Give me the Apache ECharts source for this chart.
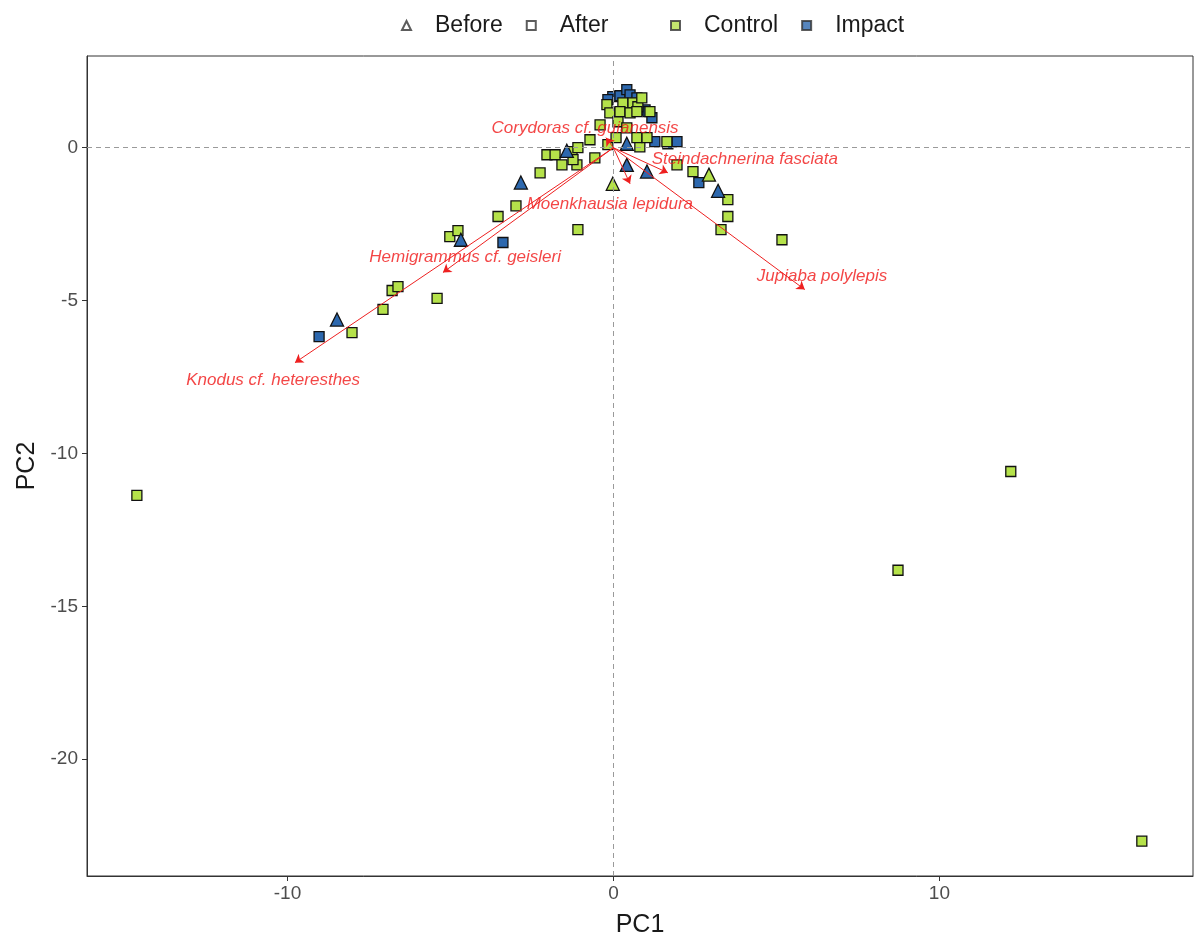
<!DOCTYPE html>
<html>
<head>
<meta charset="utf-8">
<script src="https://cdn.jsdelivr.net/npm/echarts@6/dist/echarts.min.js"></script>
<style>html,body{margin:0;padding:0;background:#fff}#c{width:1198px;height:943px}</style>
</head>
<body>
<div id="c"></div>
<script>
// ---- data (PC1, PC2) ----
const controlBefore = [[-0.02,-1.18],[2.93,-0.88]];
const impactBefore = [[-8.48,-5.62],[-4.68,-3.01],[-2.84,-1.14],[-1.43,-0.10],[0.41,0.13],[0.41,-0.56],[1.03,-0.78],[3.21,-1.41]];
const impactAfter = [[-9.03,-6.18],[-3.39,-3.10],[2.62,-1.14],[1.27,0.20],[1.67,0.13],[1.95,0.20],
  [-0.02,1.67],[0.20,1.70],[0.41,1.90],[0.51,1.73],[0.72,1.63],[-0.17,1.57],[0.97,1.24],[1.06,1.18],[1.18,0.98]];
const controlAfter = [
  [-14.62,-11.37],[12.19,-10.59],[8.73,-13.82],[16.21,-22.68],
  [-8.02,-6.05],[-7.07,-5.29],[-6.79,-4.67],[-6.61,-4.54],[-5.41,-4.93],[-5.02,-2.91],[-4.77,-2.71],
  [-3.54,-2.25],[-2.99,-1.90],[-1.09,-2.68],
  [2.44,-0.78],[3.51,-1.70],[3.51,-2.25],[3.30,-2.68],[5.17,-3.01],[1.95,-0.56],
  [-2.25,-0.82],[-2.04,-0.23],[-1.79,-0.23],[-1.27,-0.13],[-1.09,0.00],[-1.58,-0.56],[-1.12,-0.56],
  [-1.24,-0.39],[-0.57,-0.33],[-0.17,0.10],[0.81,0.03],[-0.72,0.26],[0.08,0.33],[0.72,0.33],[1.03,0.33],[1.64,0.20],
  [-0.20,1.41],[0.29,1.47],[0.60,1.47],[0.75,1.34],[-0.11,1.14],[0.20,1.18],[0.51,1.14],[0.72,1.18],
  [0.87,1.63],[1.12,1.18],[0.14,0.85],[0.41,0.65],[-0.41,0.75]
];
// species loadings (arrow tips) and label anchors
const species = ['Knodus cf. heteresthes','Hemigrammus cf. geisleri','Jupiaba polylepis','Moenkhausia lepidura','Steindachnerina fasciata','Corydoras cf. guianensis'];
const loadX = [-9.77,-5.23,5.87,0.51,1.67,-0.23];
const loadY = [-7.03,-4.08,-4.64,-1.18,-0.82,0.33];
const labelX = [-10.44,-4.55,6.40,-0.11,4.03,-0.87];
const labelY = [-7.61,-3.59,-4.22,-1.86,-0.39,0.65];
const xTicks = [-10,0,10];
const yTicks = [0,-5,-10,-15,-20];

const GREEN = '#b5e24a', BLUE = '#2d68ae', FONT = '"Liberation Sans", Arial, sans-serif';
const chart = echarts.init(document.getElementById('c'));
function pts(name, data, sym, color, size) {
  return {name, type:'scatter', data, symbol:sym, symbolSize:size,
    itemStyle:{color, borderColor:'#111', borderWidth:1.3, opacity:1}, z:3, silent:true};
}
const series = [
  {name:'Before', type:'scatter', data:[], symbol:'triangle', itemStyle:{color:'#fff', borderColor:'#333', borderWidth:1}},
  {name:'After', type:'scatter', data:[], symbol:'rect', itemStyle:{color:'#fff', borderColor:'#333', borderWidth:1}},
  {name:'Control', type:'scatter', data:[], symbol:'rect', itemStyle:{color:GREEN, borderColor:'#333', borderWidth:1}},
  {name:'Impact', type:'scatter', data:[], symbol:'rect', itemStyle:{color:BLUE, borderColor:'#333', borderWidth:1}},
  Object.assign(pts('Impact After', impactAfter, 'rect', BLUE, 10), {
    markLine:{silent:true, symbol:'none', label:{show:false}, animation:false,
      lineStyle:{type:[5,4], color:'#9a9a9a', width:1},
      data:[{xAxis:0},{yAxis:0}]}
  }),
  pts('Control After', controlAfter, 'rect', GREEN, 10),
  pts('Impact Before', impactBefore, 'triangle', BLUE, 13),
  pts('Control Before', controlBefore, 'triangle', GREEN, 13),
  {type:'lines', coordinateSystem:'cartesian2d', z:5, silent:true,
    symbol:['none','arrow'], symbolSize:[1,8],
    lineStyle:{color:'#ee2020', width:1, opacity:1},
    data: species.map((s,i)=>({coords:[[0,0],[loadX[i],loadY[i]]]}))},
  {type:'scatter', z:6, silent:true, symbolSize:0,
    data: species.map((s,i)=>({name:s, value:[labelX[i],labelY[i]]})),
    label:{show:true, position:'inside', formatter:p=>p.name, color:'#f01818',
      fontStyle:'italic', fontSize:17, fontFamily:FONT}}
];
const legendBase = {top:9, itemWidth:9, itemHeight:9, itemGap:23, selectedMode:false,
  textStyle:{fontSize:23, color:'#1a1a1a', fontFamily:FONT, padding:[0,0,0,19]}};
chart.setOption({
  animation:false,
  backgroundColor:'#fff',
  legend:[
    Object.assign({left:396, data:['Before','After']}, legendBase),
    Object.assign({left:665, data:['Control','Impact']}, legendBase)
  ],
  grid:{left:87, right:5, top:56, bottom:66, show:true, borderColor:'#333', borderWidth:1, backgroundColor:'#fff'},
  xAxis:{type:'value', min:-16.15, max:17.78, name:'PC1', nameLocation:'middle', nameGap:37,
    nameTextStyle:{fontSize:25, color:'#1a1a1a', fontFamily:FONT},
    splitLine:{show:false},
    axisLine:{show:true, onZero:false, lineStyle:{color:'#333'}},
    axisTick:{show:true, customValues:xTicks, length:5, lineStyle:{color:'#333'}},
    axisLabel:{customValues:xTicks, fontSize:19, color:'#4d4d4d', margin:8, fontFamily:FONT}},
  yAxis:{type:'value', min:-23.82, max:3.0, name:'PC2', nameLocation:'middle', nameGap:47,
    nameTextStyle:{fontSize:25, color:'#1a1a1a', fontFamily:FONT},
    splitLine:{show:false},
    axisLine:{show:true, onZero:false, lineStyle:{color:'#333'}},
    axisTick:{show:true, customValues:yTicks, length:5, lineStyle:{color:'#333'}},
    axisLabel:{customValues:yTicks, fontSize:19, color:'#4d4d4d', margin:9, fontFamily:FONT}},
  series
});
</script>
</body>
</html>
